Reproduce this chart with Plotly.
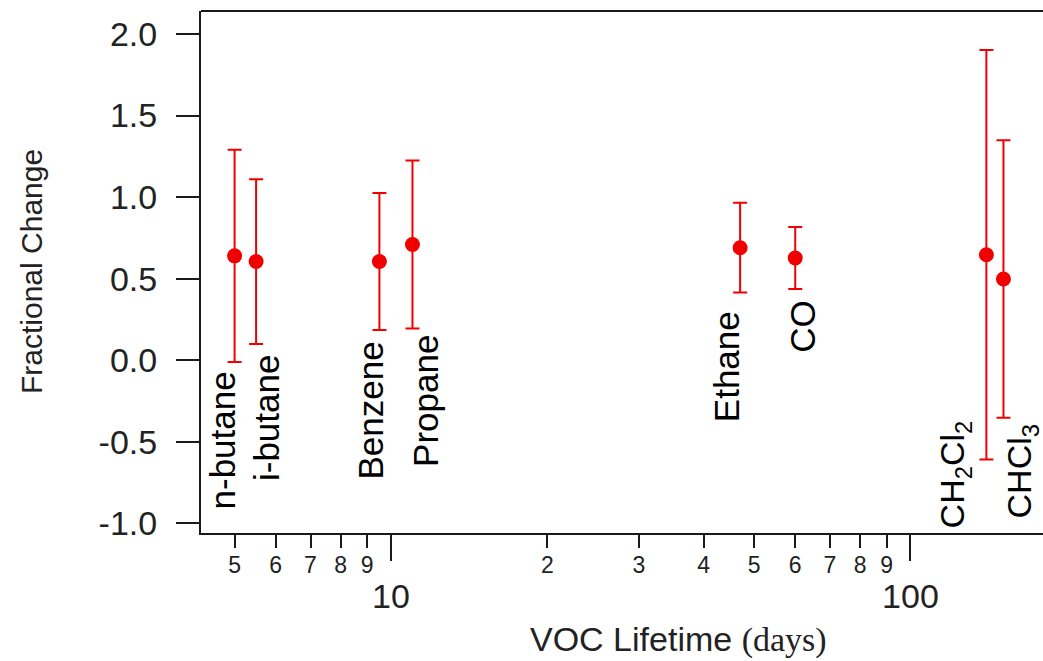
import math
import plotly.graph_objects as go

# VOC species, lifetime (days), fractional change and its uncertainty
species = ["n-butane", "i-butane", "Benzene", "Propane", "Ethane", "CO",
           "CH<sub>2</sub>Cl<sub>2</sub>", "CHCl<sub>3</sub>"]
lifetime_days = [5.0, 5.5, 9.5, 11.0, 47.0, 60.0, 140.0, 151.0]
fractional_change = [0.64, 0.605, 0.605, 0.71, 0.69, 0.627, 0.647, 0.498]
uncertainty = [0.65, 0.505, 0.42, 0.515, 0.275, 0.19, 1.255, 0.85]

# Axis ticks
minor_ticks = [5, 6, 7, 8, 9, 20, 30, 40, 50, 60, 70, 80, 90]
minor_tick_text = ["5", "6", "7", "8", "9", "2", "3", "4", "5", "6", "7", "8", "9"]
major_ticks = [10, 100]
major_tick_text = ["10", "100"]
y_ticks = [-1.0, -0.5, 0.0, 0.5, 1.0, 1.5, 2.0]
y_tick_text = ["-1.0", "-0.5", "0.0", "0.5", "1.0", "1.5", "2.0"]

SANS = "Liberation Sans, Arial, sans-serif"
RED = "#f00000"
INK = "#1a1a1a"

X_RANGE = [0.6343, 2.2551]   # log10 days
Y_RANGE = [-1.059, 2.141]

fig = go.Figure()
fig.add_trace(go.Scatter(
    x=lifetime_days, y=fractional_change, mode="markers",
    marker=dict(color=RED, size=15, line=dict(width=0)),
    error_y=dict(type="data", array=uncertainty, visible=True,
                 color=RED, thickness=2, width=7),
    xaxis="x", yaxis="y", showlegend=False, hoverinfo="skip",
))
# empty trace carrying the decade-label axis
fig.add_trace(go.Scatter(x=major_ticks, y=[None, None], xaxis="x2", yaxis="y",
                         showlegend=False, hoverinfo="skip"))

# species labels: (pixel x offset, placement, pixel gap)
label_offsets = {
    "n-butane": (-12, "below", 8),
    "i-butane": (11, "below", 9),
    "Benzene": (-9, "below", 9),
    "Propane": (13, "below", 4),
    "Ethane": (-14, "below", 17),
    "CO": (7, "below", 9),
    "CH<sub>2</sub>Cl<sub>2</sub>": (-32, "floor", 3),
    "CHCl<sub>3</sub>": (18, "floor", 13),
}

annotations = []
for name, t, v, e in zip(species, lifetime_days, fractional_change, uncertainty):
    dx, mode, gap = label_offsets[name]
    if mode == "below":
        annotations.append(dict(
            x=math.log10(t), y=v - e, xref="x", yref="y",
            text=name, textangle=-90, showarrow=False,
            xanchor="center", yanchor="top", xshift=dx, yshift=-gap,
            font=dict(family=SANS, size=35, color="black"),
        ))
    else:
        annotations.append(dict(
            x=math.log10(t), y=0, xref="x", yref="paper",
            text=name, textangle=-90, showarrow=False,
            xanchor="center", yanchor="bottom", xshift=dx, yshift=gap,
            font=dict(family=SANS, size=34, color="black"),
        ))

annotations.append(dict(
    x=0, y=0.5, xref="paper", yref="paper", xshift=-170,
    text="Fractional Change", textangle=-90, showarrow=False,
    xanchor="center", yanchor="middle",
    font=dict(family=SANS, size=30, color="#222"),
))
annotations.append(dict(
    x=0.5, y=0, xref="paper", yref="paper", xshift=56, yshift=-106,
    text="VOC Lifetime <span style=\"font-family:Liberation Serif\">(days)</span>",
    showarrow=False, xanchor="center", yanchor="middle",
    font=dict(family=SANS, size=34, color="#222"),
))

fig.update_layout(
    width=1043, height=661,
    margin=dict(l=201, r=0, t=11, b=128, pad=0),
    paper_bgcolor="white", plot_bgcolor="white",
    xaxis=dict(
        type="log", range=X_RANGE, showgrid=False, zeroline=False,
        showline=True, linecolor=INK, linewidth=2, mirror=False,
        tickmode="array", tickvals=minor_ticks, ticktext=minor_tick_text,
        ticks="outside", ticklen=13, tickwidth=2, tickcolor=INK,
        tickfont=dict(family=SANS, size=23, color="#222"),
        ticklabelstandoff=-3,
    ),
    xaxis2=dict(
        type="log", range=X_RANGE, overlaying="x", side="bottom",
        showgrid=False, zeroline=False, showline=False,
        tickmode="array", tickvals=major_ticks, ticktext=major_tick_text,
        ticks="outside", ticklen=27, tickwidth=2, tickcolor=INK,
        tickfont=dict(family=SANS, size=34, color="#222"),
        ticklabelstandoff=6,
    ),
    yaxis=dict(
        range=Y_RANGE, showgrid=False, zeroline=False,
        showline=True, linecolor=INK, linewidth=2,
        tickmode="array", tickvals=y_ticks, ticktext=y_tick_text,
        ticks="outside", ticklen=23, tickwidth=2, tickcolor=INK,
        tickfont=dict(family=SANS, size=34, color="#222"),
        ticklabelstandoff=12,
    ),
    annotations=annotations,
    shapes=[dict(type="line", xref="paper", yref="paper",
                 x0=0, x1=1, y0=1, y1=1,
                 line=dict(color=INK, width=2))],
)

fig.write_html("out.html")
